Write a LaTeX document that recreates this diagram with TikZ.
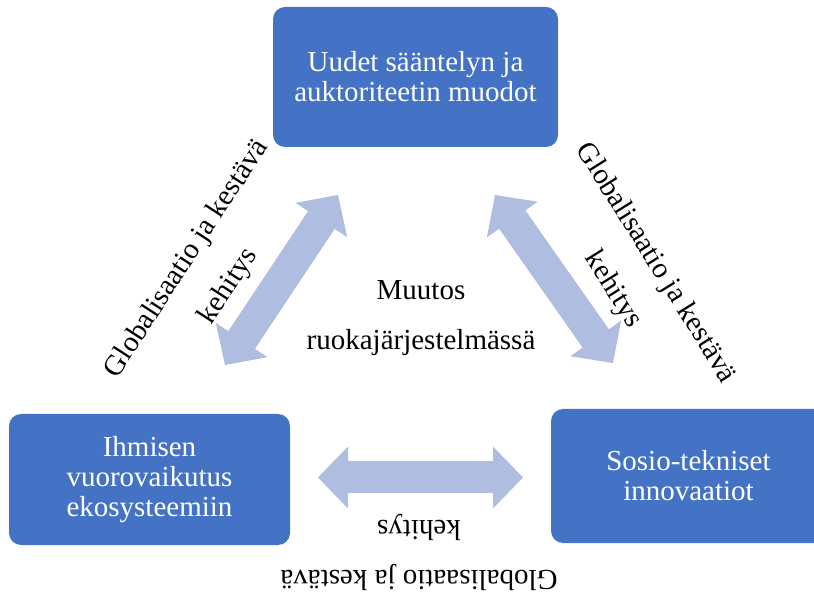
\documentclass[tikz,border=0pt]{standalone}
\usepackage{fontspec}
\setmainfont{Liberation Serif}
\usetikzlibrary{arrows.meta}
\definecolor{boxblue}{HTML}{4472C4}
\definecolor{linkblue}{HTML}{AFBDE0}

\begin{document}
\begin{tikzpicture}[x=1pt,y=1pt,
  box/.style={fill=boxblue, rounded corners=12pt, text=white, align=center, inner sep=0pt, font=\fontsize{29}{30}\selectfont},
  link/.style={draw=linkblue, line width=32pt, arrows={Triangle[length=30pt,width=62pt,line width=0pt]-Triangle[length=30pt,width=62pt,line width=0pt]}},
  lbl/.style={align=center, font=\fontsize{29}{50}\selectfont}]
\useasboundingbox (0,0) rectangle (814,592);
\clip (0,0) rectangle (814,592);
% boxes
\node[box, minimum width=285pt, minimum height=140pt] (rules) at (415.5,515) {Uudet sääntelyn ja\\auktoriteetin muodot};
\node[box, minimum width=281pt, minimum height=131pt] (nature) at (149.5,112.5) {Ihmisen\\vuorovaikutus\\ekosysteemiin};
\node[box, minimum width=275pt, minimum height=134pt] (techno) at (688.5,116) {Sosio-tekniset\\innovaatiot};
% arrows
\coordinate (leftlow) at (225,227); \coordinate (lefttop) at (338,397);
\coordinate (righttop) at (495,397); \coordinate (rightlow) at (613,229);
\coordinate (baseleft) at (318,114.5); \coordinate (baseright) at (523,114.5);
\draw[link] (leftlow) -- (lefttop);
\draw[link] (righttop) -- (rightlow);
\draw[link] (baseleft) -- (baseright);
% labels
\node[lbl] (change) at (421,274) {Muutos\\ruokajärjestelmässä};
\node[lbl, rotate=57] (leftlbl) at (208,319) {Globalisaatio ja kestävä\\kehitys};
\node[lbl, rotate=-58] (rightlbl) at (634,315.5) {Globalisaatio ja kestävä\\kehitys};
\node[lbl, rotate=180] (baselbl) at (419,40) {Globalisaatio ja kestävä\\kehitys};
\end{tikzpicture}
\end{document}
